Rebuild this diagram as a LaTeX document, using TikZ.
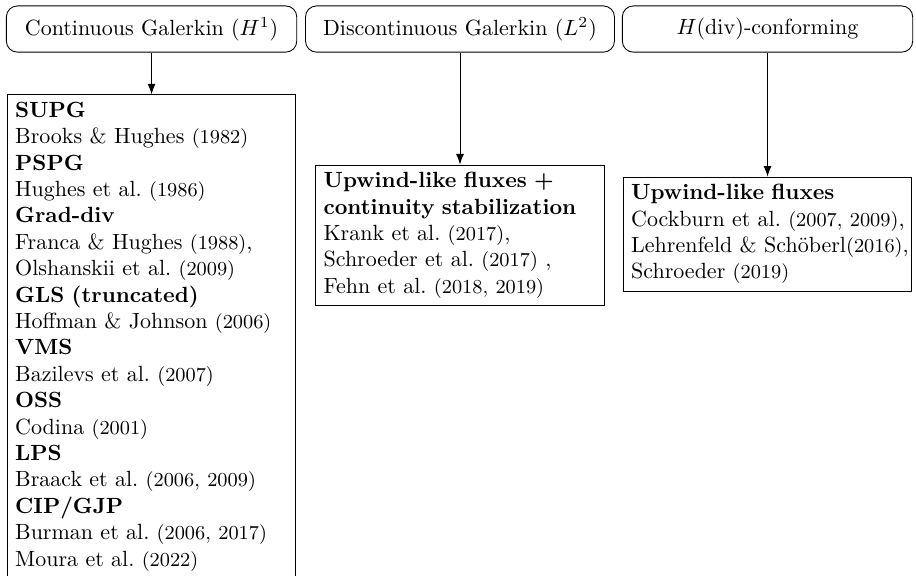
\documentclass[tikz,border=0pt]{standalone}
\usepackage{amsmath,amssymb}
\usepackage{tikz}
\usetikzlibrary{arrows.meta, positioning}
\newcommand{\yrs}[1]{{\small(#1)}}
\frenchspacing

\begin{document}
\begin{tikzpicture}[x=1pt,y=1pt,
		family/.style={draw, rounded corners=5pt, minimum width=132pt, minimum height=21pt, inner xsep=8pt},
		method/.style={draw, text width=124pt, align=left, inner xsep=3.5pt, inner ysep=3.3pt}]
			\useasboundingbox (0,0) rectangle (416.4,-261.4);
			% Families of discretizations
			\node[family] (cg) at (68.9,-13.2) {Continuous Galerkin ($H^1$)};
			\node[family] (dg) at (209.1,-13.2) {Discontinuous Galerkin ($L^2$)};
			\node[family] (hd) at (348.9,-13.2) {$H(\mathrm{div})$-conforming};
			
			% Stabilization methods
			\node[method, below=19pt of cg] (cgbox) {\textbf{SUPG}\\
				Brooks \& Hughes \yrs{1982}\\
				\textbf{PSPG}\\
				Hughes et al. \yrs{1986}\\
				\textbf{Grad-div}\\
				Franca \& Hughes \yrs{1988},\\
				Olshanskii et al. \yrs{2009}\\
				\textbf{GLS (truncated)}\\
				Hoffman \& Johnson \yrs{2006}\\
				\textbf{VMS}\\
				Bazilevs et al. \yrs{2007}\\
				\textbf{OSS}\\
				Codina \yrs{2001}\\
				\textbf{LPS}\\
				Braack et al. \yrs{2006, 2009}\\
				\textbf{CIP/GJP}\\
				Burman et al. \yrs{2006, 2017}\\
				Moura et al. \yrs{2022}};
			\node[method, below=50.9pt of dg] (dgbox) {\textbf{Upwind-like fluxes +}\\
				\textbf{continuity stabilization}\\
				Krank et al. \yrs{2017},\\
				Schroeder et al. \yrs{2017} ,\\
				Fehn et al. \yrs{2018, 2019}};
			\node[method, below=56.4pt of hd] (hdbox) {\textbf{Upwind-like fluxes}\\
				\mbox{Cockburn et al. \yrs{2007, 2009},}\\
				\mbox{Lehrenfeld \& Sch\"oberl\yrs{2016},}\\
				Schroeder \yrs{2019}};
			
			\draw[-Latex] (cg) -- (cgbox);
			\draw[-Latex] (dg) -- (dgbox);
			\draw[-Latex] (hd) -- (hdbox);
		\end{tikzpicture}
\end{document}
